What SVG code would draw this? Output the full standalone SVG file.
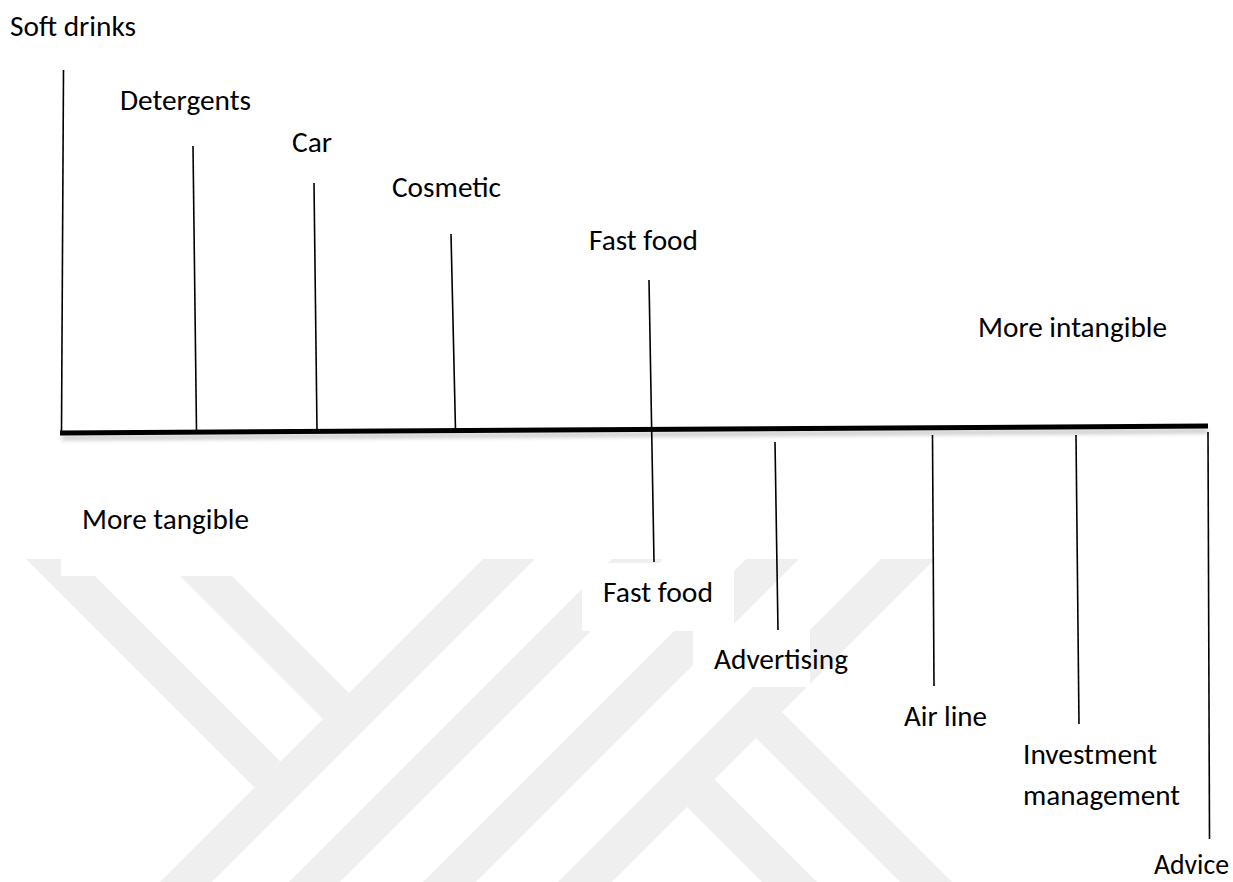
<svg xmlns="http://www.w3.org/2000/svg" width="1233" height="882" viewBox="0 0 1233 882">
  <defs>
    <style>
      .lbl { font-family: Carlito, Calibri, "Open Sans", sans-serif; font-size: 28px; fill: #000; }
      .tick { stroke: #000; stroke-width: 1.6; fill: none; stroke-linecap: butt; }
      .axis { stroke: #000; stroke-width: 5; fill: none; }
      .wm { fill: #efefef; stroke: none; }
      .box { fill: #ffffff; stroke: none; }
    </style>
    <filter id="shadow" x="-5%" y="-200%" width="110%" height="500%">
      <feGaussianBlur stdDeviation="2"/>
    </filter>
  </defs>
  <rect width="1233" height="882" fill="#ffffff"/>

  <!-- watermark -->
  <g id="watermark">
    <polygon class="wm" points="26,559 78,559 280.5,761.5 254.5,787.5"/>
    <polygon class="wm" points="163,559 215,559 349,693 323,719"/>
    <polygon class="wm" points="483,559 535,559 212,882 160,882"/>
    <polygon class="wm" points="612,559 663,559 340,882 289,882"/>
    <polygon class="wm" points="746,559 799,559 476,882 423,882"/>
    <polygon class="wm" points="881,559 935,559 612,882 558,882"/>
    <polygon class="wm" points="782,712 952,882 900,882 756,738"/>
    <polygon class="wm" points="714.5,779.5 817,882 762,882 687,807"/>
  </g>

  <!-- white label boxes covering watermark -->
  <g id="label-boxes">
    <rect class="box" x="61" y="490" width="175" height="86"/>
    <rect class="box" x="582" y="563" width="152" height="68"/>
    <rect class="box" x="693" y="631" width="117" height="56"/>
  </g>

  <!-- connectors -->
  <g id="connectors">
    <line x1="62" y1="438" x2="1208" y2="431" stroke="#999" stroke-width="4" opacity="0.6" filter="url(#shadow)"/>
    <line class="tick" x1="63.5" y1="70" x2="61.5" y2="431"/>
    <line class="tick" x1="193" y1="146" x2="196.5" y2="431"/>
    <line class="tick" x1="314" y1="183" x2="317" y2="430"/>
    <line class="tick" x1="451" y1="234" x2="455.5" y2="430"/>
    <line class="tick" x1="649" y1="280" x2="654" y2="562"/>
    <line class="tick" x1="775" y1="442" x2="778" y2="630"/>
    <line class="tick" x1="932.5" y1="435" x2="934" y2="686"/>
    <line class="tick" x1="1076" y1="435" x2="1079" y2="724"/>
    <line class="tick" x1="1208" y1="432" x2="1209.5" y2="839"/>
    <line class="axis" x1="60" y1="433" x2="1208" y2="426"/>
  </g>

  <g id="node-soft-drinks"><text class="lbl" x="10" y="36" textLength="126" lengthAdjust="spacingAndGlyphs">Soft drinks</text></g>
  <g id="node-detergents"><text class="lbl" x="120" y="110" textLength="131" lengthAdjust="spacingAndGlyphs">Detergents</text></g>
  <g id="node-car"><text class="lbl" x="292" y="152" textLength="40" lengthAdjust="spacingAndGlyphs">Car</text></g>
  <g id="node-cosmetic"><text class="lbl" x="392" y="197" textLength="109" lengthAdjust="spacingAndGlyphs">Cosmetic</text></g>
  <g id="node-fast-food-top"><text class="lbl" x="589" y="250" textLength="109" lengthAdjust="spacingAndGlyphs">Fast food</text></g>
  <g id="node-more-intangible"><text class="lbl" x="978" y="337" textLength="189" lengthAdjust="spacingAndGlyphs">More intangible</text></g>
  <g id="node-more-tangible"><text class="lbl" x="82" y="529" textLength="167" lengthAdjust="spacingAndGlyphs">More tangible</text></g>
  <g id="node-fast-food-bottom"><text class="lbl" x="603" y="602" textLength="110" lengthAdjust="spacingAndGlyphs">Fast food</text></g>
  <g id="node-advertising"><text class="lbl" x="714" y="669" textLength="134" lengthAdjust="spacingAndGlyphs">Advertising</text></g>
  <g id="node-air-line"><text class="lbl" x="904" y="726" textLength="83" lengthAdjust="spacingAndGlyphs">Air line</text></g>
  <g id="node-investment-management">
    <text class="lbl" x="1023" y="764" textLength="134" lengthAdjust="spacingAndGlyphs">Investment</text>
    <text class="lbl" x="1023" y="805" textLength="157" lengthAdjust="spacingAndGlyphs">management</text>
  </g>
  <g id="node-advice"><text class="lbl" x="1154" y="874" textLength="75" lengthAdjust="spacingAndGlyphs">Advice</text></g>
</svg>
